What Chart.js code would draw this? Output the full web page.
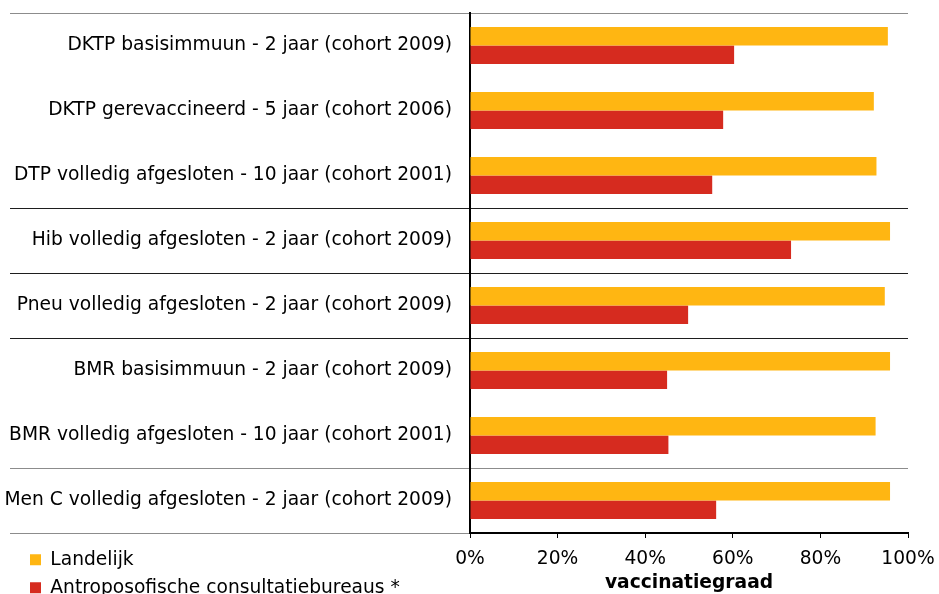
<!DOCTYPE html>
<html>
<head>
<meta charset="utf-8">
<script src="https://cdn.jsdelivr.net/npm/chart.js@4/dist/chart.umd.min.js"></script>
<style>
  html, body { margin: 0; padding: 0; background: #ffffff; }
  #wrap { width: 939px; height: 594px; position: relative; }
</style>
</head>
<body>
<div id="wrap"><canvas id="c"></canvas></div>
<script>
const categories = [
  'DKTP basisimmuun - 2 jaar (cohort 2009)',
  'DKTP gerevaccineerd - 5 jaar (cohort 2006)',
  'DTP volledig afgesloten - 10 jaar (cohort 2001)',
  'Hib volledig afgesloten - 2 jaar (cohort 2009)',
  'Pneu volledig afgesloten - 2 jaar (cohort 2009)',
  'BMR basisimmuun - 2 jaar (cohort 2009)',
  'BMR volledig afgesloten - 10 jaar (cohort 2001)',
  'Men C volledig afgesloten - 2 jaar (cohort 2009)'
];
const seriesNames = ['Landelijk', 'Antroposofische consultatiebureaus *'];
const landelijk = [95.4, 92.2, 92.8, 95.9, 94.7, 95.9, 92.6, 95.9];
const antroposofisch = [60.3, 57.8, 55.3, 73.3, 49.8, 45.0, 45.3, 56.2];
const xTickValues = [0, 20, 40, 60, 80, 100];
const xTitle = 'vaccinatiegraad';

const FONT = 'DejaVu Sans, Verdana, sans-serif';
const FS = 18.67;

// category separators shown (grid line index; undefined = bottom line)
const separatorDark = [3, 4, 5];
const separatorGray = [0, 7];
function sepColor(ctx) {
  const i = ctx.index;
  if (i === undefined) return '#8c8c8c';
  if (separatorDark.includes(i)) return '#1e1e1e';
  if (separatorGray.includes(i)) return '#8c8c8c';
  return 'rgba(0,0,0,0)';
}

const legendPlacer = {
  id: 'legendPlacer',
  afterInit(chart) { patch(chart); },
  beforeUpdate(chart) { patch(chart); },
  afterLayout(chart) {
    const lg = chart.legend;
    if (!lg) return;
    const pad = lg.options.labels.padding;
    lg.left = 30 - pad;
    lg.right = 420;
    lg.top = 550.5 - pad;
    lg.bottom = 600;
    lg.width = lg.right - lg.left;
    lg.height = lg.bottom - lg.top;
  }
};
function patch(chart) {
  const lg = chart.legend;
  if (!lg || lg._patched) return;
  const origFit = lg.fit;
  lg.fit = function () { origFit.call(this); this.height = 0; };
  lg._patched = true;
}

new Chart(document.getElementById('c'), {
  type: 'bar',
  data: {
    labels: categories,
    datasets: [
      { label: seriesNames[0], data: landelijk, backgroundColor: '#FFB612', borderWidth: 0 },
      { label: seriesNames[1], data: antroposofisch, backgroundColor: '#D62B1F', borderWidth: 0 }
    ]
  },
  plugins: [legendPlacer],
  options: {
    indexAxis: 'y',
    responsive: true,
    maintainAspectRatio: false,
    animation: false,
    layout: { padding: { top: 13, left: 0, right: 31, bottom: 0 } },
    datasets: { bar: { categoryPercentage: 0.57, barPercentage: 1.0 } },
    plugins: {
      tooltip: { enabled: false },
      legend: {
        position: 'bottom',
        align: 'start',
        labels: {
          boxWidth: 11,
          boxHeight: 11,
          padding: 9.33,
          color: '#000',
          font: { family: FONT, size: FS }
        }
      }
    },
    scales: {
      x: {
        type: 'linear',
        position: 'bottom',
        min: 0,
        max: 100,
        afterBuildTicks: (s) => { s.ticks = xTickValues.map(v => ({ value: v })); },
        ticks: {
          callback: (v) => v + '%',
          color: '#000',
          padding: 10,
          maxRotation: 0,
          font: { family: FONT, size: FS }
        },
        grid: { drawOnChartArea: false, drawTicks: true, tickLength: 5, tickColor: '#000', tickWidth: 1 },
        border: { display: true, color: '#000', width: 2 },
        title: {
          display: true,
          text: xTitle,
          color: '#000',
          padding: { top: 0, bottom: 0 },
          font: { family: FONT, size: FS, weight: 'bold' }
        },
        afterFit: (s) => { s.height = 61; s.paddingRight = 0; s.paddingLeft = 0; }
      },
      y: {
        type: 'category',
        position: 'left',
        offset: true,
        ticks: {
          color: '#000',
          padding: -442,
          font: { family: FONT, size: FS }
        },
        grid: {
          offset: true,
          drawOnChartArea: true,
          drawTicks: true,
          tickLength: 460,
          color: sepColor,
          tickColor: sepColor,
          lineWidth: 1,
          tickWidth: 1
        },
        border: { display: true, color: '#000', width: 2 },
        afterFit: (s) => { s.width = 470; s.paddingTop = 0; s.paddingBottom = 0; }
      }
    }
  }
});
</script>
</body>
</html>
